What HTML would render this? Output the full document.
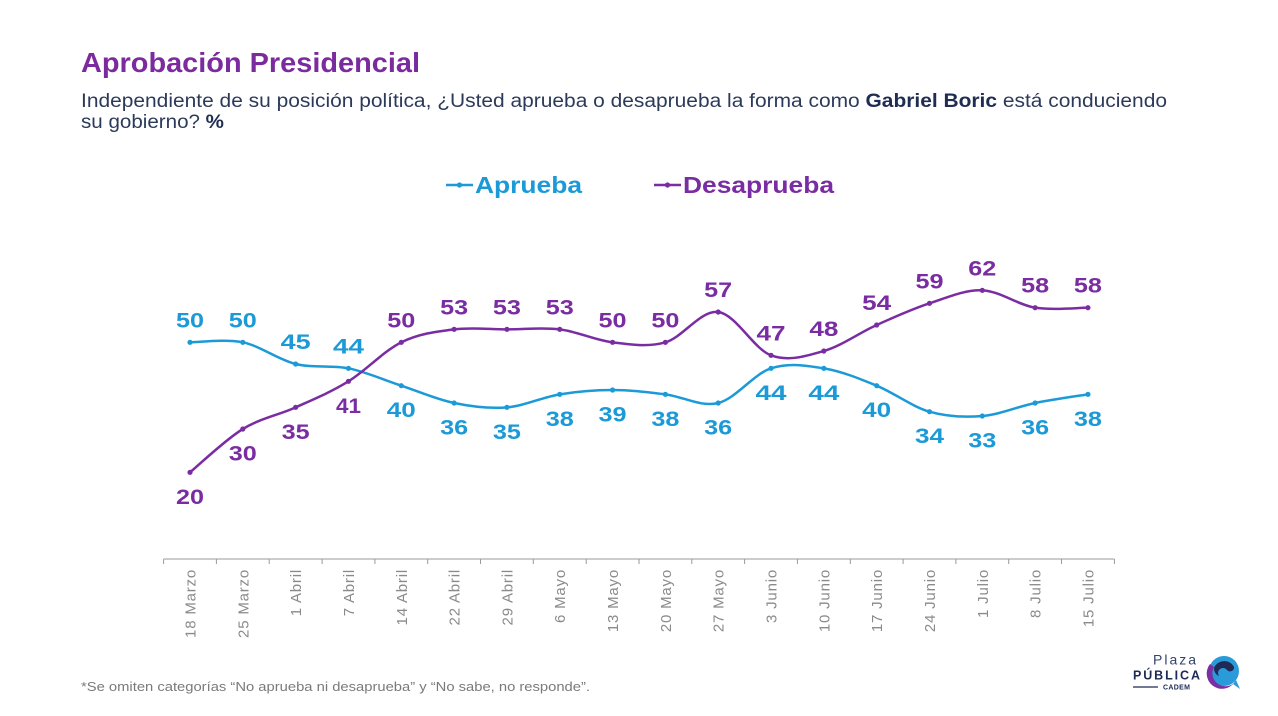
<!DOCTYPE html>
<html>
<head>
<meta charset="utf-8">
<style>
  html, body { margin:0; padding:0; background:#ffffff; }
  body { width:1278px; height:716px; overflow:hidden; }
  svg { display:block; }
  text { font-family: "Liberation Sans", "DejaVu Sans", sans-serif; }
</style>
</head>
<body>
<svg width="1278" height="716" viewBox="0 0 1278 716" xmlns="http://www.w3.org/2000/svg">
  <rect x="0" y="0" width="1278" height="716" fill="#ffffff"/>

  <!-- Title -->
  <text x="81" y="72" font-size="28" font-weight="bold" fill="#7b2b9e" textLength="339" lengthAdjust="spacingAndGlyphs">Aprobación Presidencial</text>

  <!-- Subtitle -->
  <text x="81" y="107" font-size="19" fill="#2c3a5a" textLength="1086" lengthAdjust="spacingAndGlyphs">Independiente de su posición política, ¿Usted aprueba o desaprueba la forma como <tspan font-weight="bold" fill="#1f2d52">Gabriel Boric</tspan> está conduciendo</text>
  <text x="81" y="128" font-size="19" fill="#2c3a5a" textLength="143" lengthAdjust="spacingAndGlyphs">su gobierno? <tspan font-weight="bold" fill="#1f2d52">%</tspan></text>

  <!-- Legend -->
  <line x1="446" y1="185" x2="473" y2="185" stroke="#1b9ad7" stroke-width="2.5"/>
  <circle cx="459.5" cy="185" r="2.6" fill="#1b9ad7"/>
  <text x="475" y="193" font-size="23.5" font-weight="bold" fill="#1b9ad7" textLength="107" lengthAdjust="spacingAndGlyphs">Aprueba</text>
  <line x1="654" y1="185" x2="681" y2="185" stroke="#7a2da2" stroke-width="2.5"/>
  <circle cx="667.5" cy="185" r="2.6" fill="#7a2da2"/>
  <text x="683" y="193" font-size="23.5" font-weight="bold" fill="#7a2da2" textLength="151" lengthAdjust="spacingAndGlyphs">Desaprueba</text>

  <!-- Axis -->
  <g stroke="#9a9a9a" stroke-width="1">
    <line x1="163.6" y1="559" x2="1114.4" y2="559"/>
    <line x1="163.6" y1="559" x2="163.6" y2="564"/>
    <line x1="216.4" y1="559" x2="216.4" y2="564"/>
    <line x1="269.2" y1="559" x2="269.2" y2="564"/>
    <line x1="322.1" y1="559" x2="322.1" y2="564"/>
    <line x1="374.9" y1="559" x2="374.9" y2="564"/>
    <line x1="427.7" y1="559" x2="427.7" y2="564"/>
    <line x1="480.5" y1="559" x2="480.5" y2="564"/>
    <line x1="533.3" y1="559" x2="533.3" y2="564"/>
    <line x1="586.2" y1="559" x2="586.2" y2="564"/>
    <line x1="639.0" y1="559" x2="639.0" y2="564"/>
    <line x1="691.8" y1="559" x2="691.8" y2="564"/>
    <line x1="744.6" y1="559" x2="744.6" y2="564"/>
    <line x1="797.4" y1="559" x2="797.4" y2="564"/>
    <line x1="850.3" y1="559" x2="850.3" y2="564"/>
    <line x1="903.1" y1="559" x2="903.1" y2="564"/>
    <line x1="955.9" y1="559" x2="955.9" y2="564"/>
    <line x1="1008.7" y1="559" x2="1008.7" y2="564"/>
    <line x1="1061.5" y1="559" x2="1061.5" y2="564"/>
    <line x1="1114.4" y1="559" x2="1114.4" y2="564"/>
  </g>

  <!-- Category labels -->
  <g font-size="15" fill="#8a8a8a" text-anchor="end" letter-spacing="0.8">
    <text transform="translate(195.5,569) rotate(-90)">18 Marzo</text>
    <text transform="translate(248.3,569) rotate(-90)">25 Marzo</text>
    <text transform="translate(301.1,569) rotate(-90)">1 Abril</text>
    <text transform="translate(354.0,569) rotate(-90)">7 Abril</text>
    <text transform="translate(406.8,569) rotate(-90)">14 Abril</text>
    <text transform="translate(459.6,569) rotate(-90)">22 Abril</text>
    <text transform="translate(512.4,569) rotate(-90)">29 Abril</text>
    <text transform="translate(565.2,569) rotate(-90)">6 Mayo</text>
    <text transform="translate(618.1,569) rotate(-90)">13 Mayo</text>
    <text transform="translate(670.9,569) rotate(-90)">20 Mayo</text>
    <text transform="translate(723.7,569) rotate(-90)">27 Mayo</text>
    <text transform="translate(776.5,569) rotate(-90)">3 Junio</text>
    <text transform="translate(829.3,569) rotate(-90)">10 Junio</text>
    <text transform="translate(882.2,569) rotate(-90)">17 Junio</text>
    <text transform="translate(935.0,569) rotate(-90)">24 Junio</text>
    <text transform="translate(987.8,569) rotate(-90)">1 Julio</text>
    <text transform="translate(1040.6,569) rotate(-90)">8 Julio</text>
    <text transform="translate(1093.4,569) rotate(-90)">15 Julio</text>
  </g>

  <!-- Aprueba series -->
  <path fill="none" stroke="#1b9ad7" stroke-width="2.5" stroke-linejoin="round" stroke-linecap="round"
    d="M190,342.33
       C198.8,342.33 225.21,338.72 242.82,342.33
       C260.43,345.94 278.03,359.67 295.64,364.0
       C313.25,368.33 330.85,364.72 348.46,368.33
       C366.07,371.94 383.67,379.89 401.28,385.67
       C418.89,391.44 436.49,399.39 454.1,403.0
       C471.71,406.61 489.31,408.78 506.92,407.33
       C524.53,405.89 542.13,397.22 559.74,394.33
       C577.35,391.44 594.95,390.0 612.56,390.0
       C630.17,390.0 647.77,392.17 665.38,394.33
       C682.99,396.5 700.59,407.33 718.2,403.0
       C735.81,398.67 753.41,374.11 771.02,368.33
       C788.63,362.56 806.23,365.44 823.84,368.33
       C841.45,371.22 859.05,378.44 876.66,385.67
       C894.27,392.89 911.87,406.61 929.48,411.67
       C947.09,416.72 964.69,417.44 982.3,416.0
       C999.91,414.56 1017.51,406.61 1035.12,403.0
       C1052.73,399.39 1079.14,395.78 1087.94,394.33"/>
  <g fill="#1b9ad7">
    <circle cx="190" cy="342.33" r="2.6"/>
    <circle cx="242.82" cy="342.33" r="2.6"/>
    <circle cx="295.64" cy="364.0" r="2.6"/>
    <circle cx="348.46" cy="368.33" r="2.6"/>
    <circle cx="401.28" cy="385.67" r="2.6"/>
    <circle cx="454.1" cy="403.0" r="2.6"/>
    <circle cx="506.92" cy="407.33" r="2.6"/>
    <circle cx="559.74" cy="394.33" r="2.6"/>
    <circle cx="612.56" cy="390.0" r="2.6"/>
    <circle cx="665.38" cy="394.33" r="2.6"/>
    <circle cx="718.2" cy="403.0" r="2.6"/>
    <circle cx="771.02" cy="368.33" r="2.6"/>
    <circle cx="823.84" cy="368.33" r="2.6"/>
    <circle cx="876.66" cy="385.67" r="2.6"/>
    <circle cx="929.48" cy="411.67" r="2.6"/>
    <circle cx="982.3" cy="416.0" r="2.6"/>
    <circle cx="1035.12" cy="403.0" r="2.6"/>
    <circle cx="1087.94" cy="394.33" r="2.6"/>
  </g>

  <!-- Desaprueba series -->
  <path fill="none" stroke="#7a2da2" stroke-width="2.5" stroke-linejoin="round" stroke-linecap="round"
    d="M190,472.33
       C198.8,465.11 225.21,439.83 242.82,429.0
       C260.43,418.17 278.03,415.28 295.64,407.33
       C313.25,399.39 330.85,392.17 348.46,381.33
       C366.07,370.5 383.67,351.0 401.28,342.33
       C418.89,333.67 436.49,331.5 454.1,329.33
       C471.71,327.17 489.31,329.33 506.92,329.33
       C524.53,329.33 542.13,327.17 559.74,329.33
       C577.35,331.5 594.95,340.17 612.56,342.33
       C630.17,344.5 647.77,347.39 665.38,342.33
       C682.99,337.28 700.59,309.83 718.2,312.0
       C735.81,314.17 753.41,348.83 771.02,355.33
       C788.63,361.83 806.23,356.06 823.84,351.0
       C841.45,345.94 859.05,332.94 876.66,325.0
       C894.27,317.06 911.87,309.11 929.48,303.33
       C947.09,297.56 964.69,289.61 982.3,290.33
       C999.91,291.06 1017.51,304.78 1035.12,307.67
       C1052.73,310.56 1079.14,307.67 1087.94,307.67"/>
  <g fill="#7a2da2">
    <circle cx="190" cy="472.33" r="2.6"/>
    <circle cx="242.82" cy="429.0" r="2.6"/>
    <circle cx="295.64" cy="407.33" r="2.6"/>
    <circle cx="348.46" cy="381.33" r="2.6"/>
    <circle cx="401.28" cy="342.33" r="2.6"/>
    <circle cx="454.1" cy="329.33" r="2.6"/>
    <circle cx="506.92" cy="329.33" r="2.6"/>
    <circle cx="559.74" cy="329.33" r="2.6"/>
    <circle cx="612.56" cy="342.33" r="2.6"/>
    <circle cx="665.38" cy="342.33" r="2.6"/>
    <circle cx="718.2" cy="312.0" r="2.6"/>
    <circle cx="771.02" cy="355.33" r="2.6"/>
    <circle cx="823.84" cy="351.0" r="2.6"/>
    <circle cx="876.66" cy="325.0" r="2.6"/>
    <circle cx="929.48" cy="303.33" r="2.6"/>
    <circle cx="982.3" cy="290.33" r="2.6"/>
    <circle cx="1035.12" cy="307.67" r="2.6"/>
    <circle cx="1087.94" cy="307.67" r="2.6"/>
  </g>

  <!-- Aprueba labels -->
  <g font-size="21" font-weight="bold" fill="#1b9ad7" text-anchor="middle">
    <text x="190" y="327.3" textLength="28" lengthAdjust="spacingAndGlyphs">50</text>
    <text x="242.82" y="327.3" textLength="28" lengthAdjust="spacingAndGlyphs">50</text>
    <text x="295.64" y="349" textLength="30" lengthAdjust="spacingAndGlyphs">45</text>
    <text x="348.46" y="353.3" textLength="31" lengthAdjust="spacingAndGlyphs">44</text>
    <text x="401.28" y="417.2" textLength="29" lengthAdjust="spacingAndGlyphs">40</text>
    <text x="454.1" y="434.5" textLength="28" lengthAdjust="spacingAndGlyphs">36</text>
    <text x="506.92" y="438.8" textLength="28" lengthAdjust="spacingAndGlyphs">35</text>
    <text x="559.74" y="425.8" textLength="28" lengthAdjust="spacingAndGlyphs">38</text>
    <text x="612.56" y="421.5" textLength="28" lengthAdjust="spacingAndGlyphs">39</text>
    <text x="665.38" y="425.8" textLength="28" lengthAdjust="spacingAndGlyphs">38</text>
    <text x="718.2" y="434.5" textLength="28" lengthAdjust="spacingAndGlyphs">36</text>
    <text x="771.02" y="399.8" textLength="31" lengthAdjust="spacingAndGlyphs">44</text>
    <text x="823.84" y="399.8" textLength="31" lengthAdjust="spacingAndGlyphs">44</text>
    <text x="876.66" y="417.2" textLength="29" lengthAdjust="spacingAndGlyphs">40</text>
    <text x="929.48" y="443.2" textLength="29" lengthAdjust="spacingAndGlyphs">34</text>
    <text x="982.3" y="447.5" textLength="28" lengthAdjust="spacingAndGlyphs">33</text>
    <text x="1035.12" y="434.5" textLength="28" lengthAdjust="spacingAndGlyphs">36</text>
    <text x="1087.94" y="425.8" textLength="28" lengthAdjust="spacingAndGlyphs">38</text>
  </g>

  <!-- Desaprueba labels -->
  <g font-size="21" font-weight="bold" fill="#7a2da2" text-anchor="middle">
    <text x="190" y="503.8" textLength="28" lengthAdjust="spacingAndGlyphs">20</text>
    <text x="242.82" y="460.5" textLength="28" lengthAdjust="spacingAndGlyphs">30</text>
    <text x="295.64" y="438.8" textLength="28" lengthAdjust="spacingAndGlyphs">35</text>
    <text x="348.46" y="412.8" textLength="25" lengthAdjust="spacingAndGlyphs">41</text>
    <text x="401.28" y="327.3" textLength="28" lengthAdjust="spacingAndGlyphs">50</text>
    <text x="454.1" y="314.3" textLength="28" lengthAdjust="spacingAndGlyphs">53</text>
    <text x="506.92" y="314.3" textLength="28" lengthAdjust="spacingAndGlyphs">53</text>
    <text x="559.74" y="314.3" textLength="28" lengthAdjust="spacingAndGlyphs">53</text>
    <text x="612.56" y="327.3" textLength="28" lengthAdjust="spacingAndGlyphs">50</text>
    <text x="665.38" y="327.3" textLength="28" lengthAdjust="spacingAndGlyphs">50</text>
    <text x="718.2" y="297" textLength="28" lengthAdjust="spacingAndGlyphs">57</text>
    <text x="771.02" y="340.3" textLength="29" lengthAdjust="spacingAndGlyphs">47</text>
    <text x="823.84" y="336" textLength="29" lengthAdjust="spacingAndGlyphs">48</text>
    <text x="876.66" y="310" textLength="29" lengthAdjust="spacingAndGlyphs">54</text>
    <text x="929.48" y="288.3" textLength="28" lengthAdjust="spacingAndGlyphs">59</text>
    <text x="982.3" y="275.3" textLength="28" lengthAdjust="spacingAndGlyphs">62</text>
    <text x="1035.12" y="292.7" textLength="28" lengthAdjust="spacingAndGlyphs">58</text>
    <text x="1087.94" y="292.7" textLength="28" lengthAdjust="spacingAndGlyphs">58</text>
  </g>

  <!-- Footnote -->
  <text x="81" y="691" font-size="12.5" fill="#7a7a7a" textLength="509" lengthAdjust="spacingAndGlyphs">*Se omiten categorías “No aprueba ni desaprueba” y “No sabe, no responde”.</text>

  <!-- Logo -->
  <text x="1153" y="664.3" font-size="14" fill="#33436e" textLength="43" lengthAdjust="spacing">Plaza</text>
  <text x="1133" y="679.5" font-size="12.5" font-weight="bold" fill="#1d2b56" textLength="67" lengthAdjust="spacing">PÚBLICA</text>
  <line x1="1133" y1="687" x2="1158" y2="687" stroke="#1d2b56" stroke-width="1.3"/>
  <text x="1163" y="689.5" font-size="7" font-weight="bold" fill="#1d2b56" textLength="27" lengthAdjust="spacing">CADEM</text>
  <circle cx="1224" cy="671" r="15" fill="#2a9ad8"/>
  <path d="M1233,684 L1240,689 L1236,680 Z" fill="#2a9ad8"/>
  <path d="M1210,664 A15,15 0 0 0 1234,683 A13,13 0 0 1 1214,667 Z" fill="#7a2fa3"/>
  <path d="M1214,668 A11,11 0 0 1 1234,667 A4,4 0 0 1 1227,670 A5,5 0 0 0 1219,676 A8,8 0 0 1 1214,668 Z" fill="#1d2b56"/>
</svg>
</body>
</html>
